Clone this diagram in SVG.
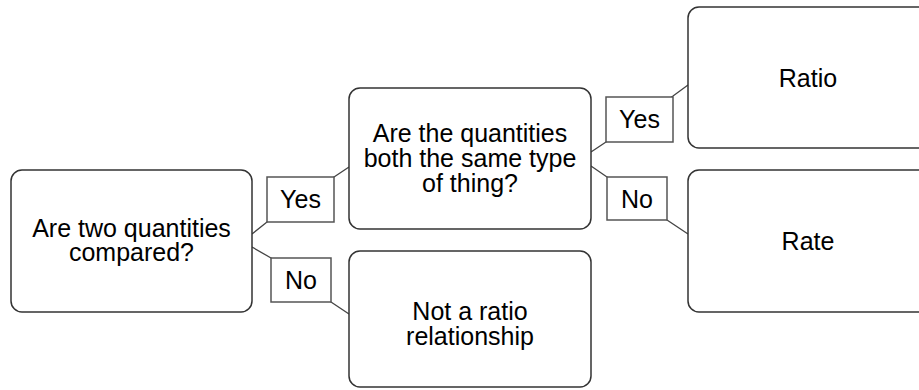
<svg xmlns="http://www.w3.org/2000/svg" width="919" height="390" viewBox="0 0 919 390">
<style>
.node{fill:#fff;stroke:#333;stroke-width:1.5}
.lbl{fill:#fff;stroke:#555;stroke-width:1.5}
.edge{fill:none;stroke:#444;stroke-width:1.3}
text{font-family:"Liberation Sans",Arial,sans-serif;font-size:25px;fill:#000;text-anchor:middle}
</style>
<rect width="919" height="390" fill="#fff"/>
<g id="connectors">
<polyline class="edge" points="252,234 267,222 334,177 349,167"/>
<polyline class="edge" points="252,247 271,258 331,302 349,314"/>
<polyline class="edge" points="591,152 606,142 673,96 688,85"/>
<polyline class="edge" points="591,166 607,177 667,220 688,234"/>
<g id="label-yes1"><rect class="lbl" x="267" y="177" width="67" height="45"/><text x="300.5" y="208">Yes</text></g>
<g id="label-no1"><rect class="lbl" x="271" y="258" width="60" height="44"/><text x="301" y="289">No</text></g>
<g id="label-yes2"><rect class="lbl" x="606" y="97" width="67" height="45"/><text x="639.5" y="128">Yes</text></g>
<g id="label-no2"><rect class="lbl" x="607" y="177" width="60" height="43"/><text x="637" y="208">No</text></g>
</g>
<g id="n-compared"><rect class="node" x="11" y="170" width="241" height="142" rx="11"/><text x="131.5" y="237">Are two quantities</text><text x="131.5" y="261">compared?</text></g>
<g id="n-same"><rect class="node" x="349" y="88" width="242" height="141" rx="11"/><text x="470" y="142">Are the quantities</text><text x="470" y="167">both the same type</text><text x="470" y="192">of thing?</text></g>
<g id="n-not"><rect class="node" x="349" y="251" width="242" height="136" rx="11"/><text x="470" y="320">Not a ratio</text><text x="470" y="345">relationship</text></g>
<g id="n-ratio"><rect class="node" x="688" y="7" width="242" height="141" rx="11"/><text x="808" y="87">Ratio</text></g>
<g id="n-rate"><rect class="node" x="688" y="170" width="242" height="142" rx="11"/><text x="808" y="250">Rate</text></g>
</svg>
